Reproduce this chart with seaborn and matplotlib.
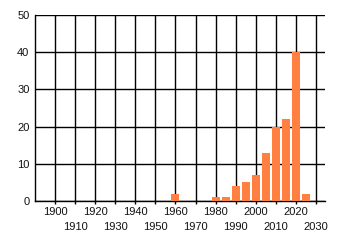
import matplotlib
matplotlib.use("Agg")
import matplotlib.pyplot as plt
import seaborn as sns
import pandas as pd

years = [1960, 1980, 1985, 1990, 1995, 2000, 2005, 2010, 2015, 2020, 2025]
counts = [2, 1, 1, 4, 5, 7, 13, 20, 22, 40, 2]
major_ticks = [1900, 1920, 1940, 1960, 1980, 2000, 2020]
minor_ticks = [1910, 1930, 1950, 1970, 1990, 2010, 2030]
y_ticks = [0, 10, 20, 30, 40, 50]

sns.set_theme(style="white")
plt.rcParams['font.family'] = ['Liberation Sans', 'DejaVu Sans']

fig = plt.figure(figsize=(3.4, 2.45), dpi=100)
ax = fig.add_axes([35/340, 44/245, 290/340, 186/245])

df = pd.DataFrame({"year": years, "count": counts})
sns.barplot(data=df, x="year", y="count", native_scale=True, width=0.8,
            color="#FF8040", saturation=1, ax=ax, zorder=3, edgecolor="none")

ax.set_xlim(1890, 2034.5)
ax.set_ylim(0, 50)
ax.set_xlabel("")
ax.set_ylabel("")

ax.set_xticks(major_ticks, [str(t) for t in major_ticks])
ax.set_xticks(minor_ticks, [str(t) for t in minor_ticks], minor=True)
ax.set_yticks(y_ticks, [str(t) for t in y_ticks])

ax.grid(True, which="both", color="black", linewidth=1.0, zorder=0)
ax.set_axisbelow(True)

ax.tick_params(axis="x", which="major", length=2, width=1, color="black",
               labelsize=8, pad=2, labelcolor="#111111", bottom=True)
ax.tick_params(axis="x", which="minor", length=2, width=1, color="black",
               labelsize=8, pad=13, labelcolor="#111111", bottom=True)
ax.tick_params(axis="y", length=0, labelsize=8, pad=4, labelcolor="#111111")

for side in ["top", "right"]:
    ax.spines[side].set_visible(False)
for side in ["left", "bottom"]:
    ax.spines[side].set_visible(True)
    ax.spines[side].set_color("black")
    ax.spines[side].set_linewidth(1.0)

fig.savefig("out.png", dpi=100, facecolor="white")
